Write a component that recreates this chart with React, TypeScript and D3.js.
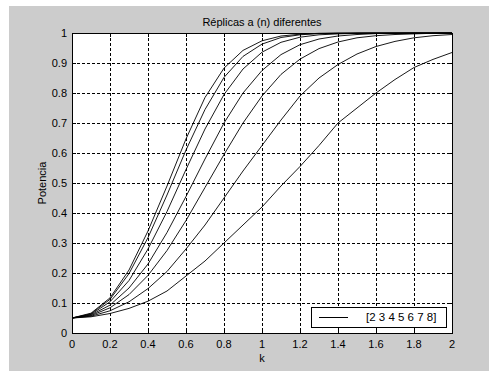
import React from "react";
import * as d3 from "d3";

const kValues = [0, 0.1, 0.2, 0.3, 0.4, 0.5, 0.6, 0.7, 0.8, 0.9, 1.0, 1.1, 1.2, 1.3, 1.4, 1.5, 1.6, 1.7, 1.8, 1.9, 2.0];
const n2 = [0.05, 0.054, 0.065, 0.082, 0.106, 0.14, 0.19, 0.24, 0.30, 0.36, 0.42, 0.49, 0.555, 0.625, 0.70, 0.75, 0.80, 0.845, 0.885, 0.912, 0.935];
const n3 = [0.05, 0.056, 0.074, 0.104, 0.148, 0.205, 0.28, 0.36, 0.45, 0.54, 0.625, 0.71, 0.79, 0.85, 0.895, 0.93, 0.955, 0.972, 0.984, 0.991, 0.995];
const n4 = [0.05, 0.058, 0.084, 0.128, 0.192, 0.275, 0.375, 0.485, 0.595, 0.70, 0.79, 0.862, 0.913, 0.948, 0.97, 0.984, 0.991, 0.995, 0.997, 0.999, 1.0];
const n5 = [0.05, 0.06, 0.093, 0.15, 0.23, 0.335, 0.455, 0.58, 0.70, 0.80, 0.875, 0.928, 0.961, 0.98, 0.99, 0.995, 0.998, 0.999, 1, 1, 1];
const n6 = [0.05, 0.062, 0.104, 0.175, 0.28, 0.405, 0.545, 0.68, 0.795, 0.88, 0.936, 0.969, 0.986, 0.994, 0.997, 0.999, 1, 1, 1, 1, 1];
const n7 = [0.05, 0.064, 0.112, 0.198, 0.318, 0.46, 0.61, 0.745, 0.852, 0.922, 0.963, 0.985, 0.994, 0.998, 0.999, 1, 1, 1, 1, 1, 1];
const n8 = [0.05, 0.066, 0.117, 0.21, 0.34, 0.49, 0.647, 0.785, 0.883, 0.942, 0.974, 0.99, 0.996, 0.999, 1, 1, 1, 1, 1, 1, 1];
const seriesList = [n2, n3, n4, n5, n6, n7, n8];

const xTicks = [0, 0.2, 0.4, 0.6, 0.8, 1, 1.2, 1.4, 1.6, 1.8, 2];
const xTickLabels = ["0", "0.2", "0.4", "0.6", "0.8", "1", "1.2", "1.4", "1.6", "1.8", "2"];
const yTicks = [0, 0.1, 0.2, 0.3, 0.4, 0.5, 0.6, 0.7, 0.8, 0.9, 1];
const yTickLabels = ["0", "0.1", "0.2", "0.3", "0.4", "0.5", "0.6", "0.7", "0.8", "0.9", "1"];

const titleText = "Réplicas a (n) diferentes";
const xLabel = "k";
const yLabel = "Potencia";
const legendText = "[2 3 4 5 6 7 8]";

const W = 489, H = 371;
const L = 72, R = 452, T = 33, B = 333;
const FONT = "'Liberation Sans', Arial, sans-serif";

export default function App() {
  const x = d3.scaleLinear().domain([0, 2]).range([L, R]);
  const y = d3.scaleLinear().domain([0, 1]).range([B, T]);
  const line = d3.line<number>().x((_, i) => x(kValues[i])).y((d) => y(d));

  return (
    <svg width={W} height={H} style={{ position: "absolute", left: 0, top: 0 }} fontFamily={FONT}>
      <rect x={0} y={0} width={W} height={H} fill="#ffffff" />
      <rect x={9} y={6} width={W - 9} height={H - 6} fill="#cccccc" />
      <rect x={L} y={T} width={R - L} height={B - T} fill="#ffffff" />
      {/* grid */}
      {xTicks.slice(1, -1).map((t, i) => (
        <line key={"gx" + i} x1={x(t)} x2={x(t)} y1={T} y2={B} stroke="#000" strokeWidth={1} strokeDasharray="3,2" shapeRendering="crispEdges" />
      ))}
      {yTicks.slice(1, -1).map((t, i) => (
        <line key={"gy" + i} x1={L} x2={R} y1={y(t)} y2={y(t)} stroke="#000" strokeWidth={1} strokeDasharray="3,2" shapeRendering="crispEdges" />
      ))}
      {/* tick marks inward */}
      {xTicks.map((t, i) => (
        <g key={"tx" + i}>
          <line x1={x(t)} x2={x(t)} y1={B} y2={B - 4} stroke="#000" shapeRendering="crispEdges" />
          <line x1={x(t)} x2={x(t)} y1={T} y2={T + 4} stroke="#000" shapeRendering="crispEdges" />
        </g>
      ))}
      {yTicks.map((t, i) => (
        <g key={"ty" + i}>
          <line x1={L} x2={L + 4} y1={y(t)} y2={y(t)} stroke="#000" shapeRendering="crispEdges" />
          <line x1={R} x2={R - 4} y1={y(t)} y2={y(t)} stroke="#000" shapeRendering="crispEdges" />
        </g>
      ))}
      {/* curves */}
      {seriesList.map((s, i) => (
        <path key={"s" + i} d={line(s) || ""} fill="none" stroke="#000" strokeWidth={0.9} />
      ))}
      {/* axes box */}
      <rect x={L} y={T} width={R - L} height={B - T} fill="none" stroke="#000" strokeWidth={1} shapeRendering="crispEdges" />
      {/* tick labels */}
      {xTicks.map((t, i) => (
        <text key={"xl" + i} x={x(t)} y={348} textAnchor="middle" fontSize={11} fill="#000">{xTickLabels[i]}</text>
      ))}
      {yTicks.map((t, i) => (
        <text key={"yl" + i} x={67} y={y(t) + 4} textAnchor="end" fontSize={11} fill="#000">{yTickLabels[i]}</text>
      ))}
      <text x={(L + R) / 2} y={25.5} textAnchor="middle" fontSize={11} fill="#000">{titleText}</text>
      <text x={(L + R) / 2} y={362} textAnchor="middle" fontSize={11} fill="#000">{xLabel}</text>
      <text transform={`translate(46,${(T + B) / 2}) rotate(-90)`} textAnchor="middle" fontSize={11} fill="#000">{yLabel}</text>
      {/* legend */}
      <rect x={311} y={307} width={135} height={20} fill="#ffffff" stroke="#000" strokeWidth={1} shapeRendering="crispEdges" />
      <line x1={319} x2={348} y1={317} y2={317} stroke="#000" strokeWidth={1} shapeRendering="crispEdges" />
      <text x={366} y={321} fontSize={11.5} fill="#000">{legendText}</text>
    </svg>
  );
}
